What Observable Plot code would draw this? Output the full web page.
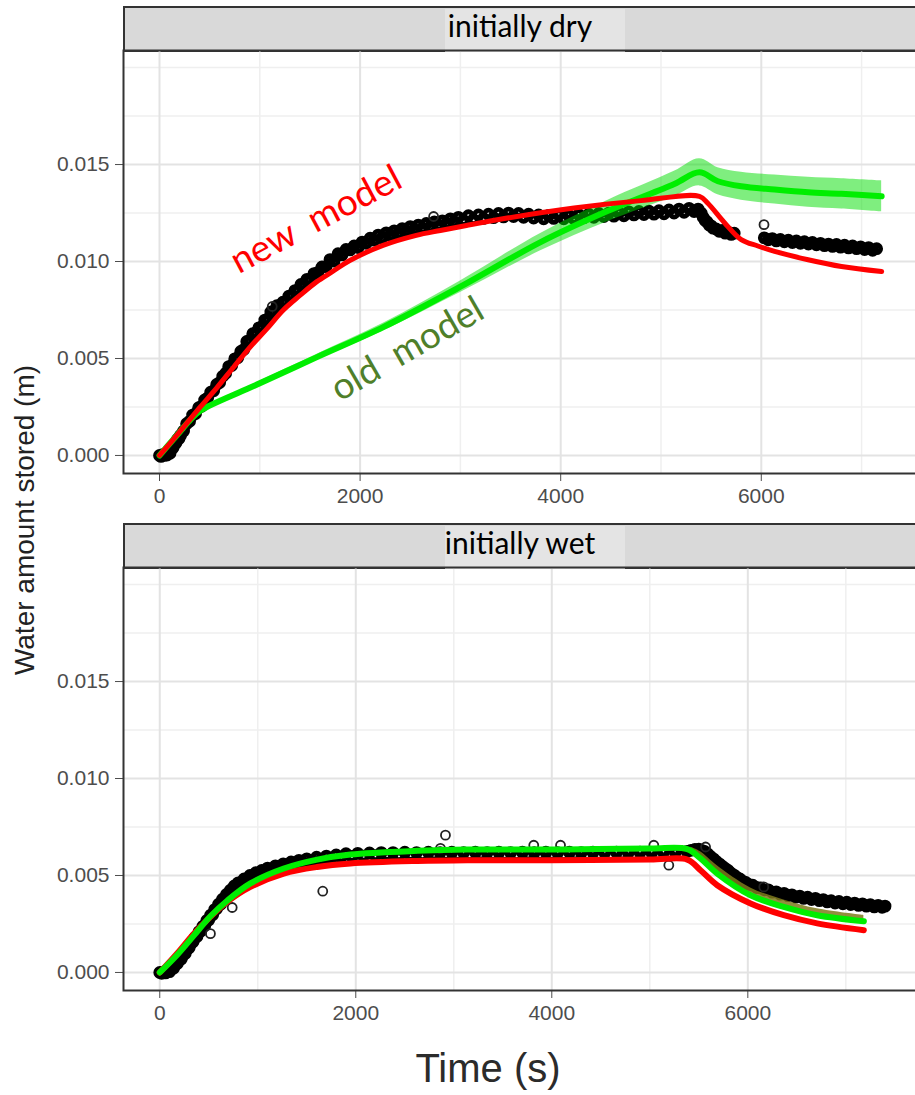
<!DOCTYPE html>
<html>
<head>
<meta charset="utf-8">
<script src="https://cdn.jsdelivr.net/npm/d3@7"></script>
<script src="https://cdn.jsdelivr.net/npm/@observablehq/plot@0.6"></script>
<style>
html,body{margin:0;padding:0;background:#fff;}
#root{position:relative;width:915px;height:1095px;overflow:hidden;font-family:"Liberation Sans",Arial,sans-serif;}
.strip{position:absolute;left:123px;width:820px;height:46px;background:#d9d9d9;border:2px solid #333;box-sizing:border-box;}
.stripbox{position:absolute;left:445px;width:180px;background:#e4e4e4;}
.striptext{position:absolute;left:370px;width:300px;text-align:center;font-family:Lato,"Open Sans",sans-serif;font-size:30px;line-height:36px;color:#000;white-space:nowrap;}
.panel{position:absolute;left:0;width:930px;}
.panel svg{max-width:none !important;}
#ytitle{position:absolute;left:-175px;top:500px;width:400px;height:40px;line-height:40px;text-align:center;font-size:28px;color:#222;transform:rotate(-90deg);white-space:nowrap;}
#xtitle{position:absolute;left:338px;top:1044px;width:300px;line-height:48px;text-align:center;font-size:40px;color:#2b2b2b;white-space:nowrap;}
</style>
</head>
<body>
<div id="root">
  <div class="strip" style="top:6px"></div>
  <div class="stripbox" style="top:9px;height:43px"></div>
  <div class="striptext" style="top:7px">initially dry</div>
  <div class="strip" style="top:523px"></div>
  <div class="stripbox" style="top:526px;height:43px"></div>
  <div class="striptext" style="top:524px">initially wet</div>
  <div id="top" class="panel" style="top:50px"></div>
  <div id="bottom" class="panel" style="top:567px"></div>
  <div id="ytitle">Water amount stored (m)</div>
  <div id="xtitle">Time (s)</div>
</div>
<script>
// ---- axis ticks ----
const xTicks = [0, 2000, 4000, 6000];
const xMinorTicks = [1000, 3000, 5000, 7000];
const yTicks = [0, 0.005, 0.010, 0.015];
const yMinorTicks = [0.0025, 0.0075, 0.0125, 0.0175, 0.02];

// ---- initially dry: observed [time, stored] ----
const dryObserved = [
[0,0.00000],[15,-0.00005],[30,0.00004],[45,0.00000],[60,0.00008],[75,0.00002],[90,0.00018],[105,0.00012],[120,0.00034],[135,0.00040],[150,0.00058],[165,0.00066],[180,0.00084],[195,0.00088],[210,0.00104],[240,0.00126],[270,0.00164],[300,0.00176],[330,0.00208],[360,0.00216],[390,0.00246],[420,0.00254],[450,0.00286],[480,0.00296],[510,0.00326],[540,0.00334],[570,0.00366],[600,0.00376],[630,0.00408],[660,0.00424],[690,0.00458],[720,0.00464],[750,0.00498],[780,0.00504],[810,0.00536],[840,0.00546],[870,0.00588],[900,0.00594],[930,0.00628],[960,0.00632],[990,0.00658],[1020,0.00664],[1050,0.00698],[1080,0.00704],[1110,0.00740],[1140,0.00732],[1170,0.00772],[1200,0.00764],[1230,0.00790],[1260,0.00794],[1290,0.00822],[1320,0.00826],[1350,0.00850],[1380,0.00852],[1410,0.00882],[1440,0.00872],[1470,0.00908],[1500,0.00902],[1540,0.00938],[1580,0.00944],[1620,0.00972],[1660,0.00974],[1700,0.01010],[1740,0.01002],[1780,0.01040],[1820,0.01034],[1860,0.01062],[1900,0.01060],[1940,0.01080],[1980,0.01072],[2020,0.01100],[2060,0.01094],[2100,0.01120],[2140,0.01110],[2180,0.01136],[2220,0.01122],[2260,0.01148],[2300,0.01136],[2340,0.01158],[2380,0.01146],[2420,0.01170],[2460,0.01158],[2500,0.01180],[2540,0.01166],[2580,0.01188],[2620,0.01172],[2660,0.01196],[2700,0.01180],[2740,0.01204],[2780,0.01186],[2820,0.01210],[2860,0.01196],[2900,0.01220],[2940,0.01206],[2980,0.01228],[3030,0.01212],[3080,0.01236],[3130,0.01216],[3180,0.01240],[3230,0.01222],[3280,0.01244],[3330,0.01226],[3380,0.01248],[3430,0.01230],[3480,0.01250],[3530,0.01232],[3580,0.01248],[3630,0.01228],[3680,0.01244],[3730,0.01224],[3780,0.01240],[3830,0.01220],[3880,0.01238],[3930,0.01222],[3980,0.01240],[4030,0.01220],[4080,0.01238],[4130,0.01222],[4180,0.01242],[4230,0.01226],[4280,0.01244],[4330,0.01228],[4380,0.01248],[4430,0.01232],[4480,0.01250],[4530,0.01234],[4580,0.01252],[4630,0.01236],[4680,0.01256],[4730,0.01240],[4780,0.01258],[4830,0.01242],[4880,0.01260],[4930,0.01244],[4980,0.01262],[5030,0.01246],[5080,0.01266],[5130,0.01250],[5180,0.01270],[5230,0.01254],[5280,0.01274],[5330,0.01258],[5370,0.01270],[5400,0.01250],[5420,0.01228],[5440,0.01212],[5460,0.01204],[5480,0.01188],[5500,0.01184],[5520,0.01172],[5550,0.01168],[5580,0.01156],[5610,0.01160],[5640,0.01146],[5670,0.01152],[5700,0.01140],[5730,0.01146],
[6030,0.01122],[6070,0.01112],[6110,0.01118],[6150,0.01106],[6190,0.01114],[6230,0.01102],[6270,0.01110],[6310,0.01098],[6350,0.01106],[6390,0.01094],[6430,0.01102],[6470,0.01090],[6510,0.01098],[6550,0.01086],[6590,0.01094],[6630,0.01082],[6670,0.01090],[6710,0.01078],[6750,0.01088],[6790,0.01074],[6830,0.01084],[6870,0.01070],[6910,0.01080],[6950,0.01066],[6990,0.01076],[7030,0.01062],[7070,0.01072],[7110,0.01058],[7150,0.01066]
];
const dryOutliers = [[6027,0.01190],[2733,0.01232],[1124,0.00768]];
// new model (red)
const dryNewModel = [[0,0],[100,0.0006],[240,0.00146],[407,0.0025],[573,0.0035],[740,0.00456],[905,0.0056],[1070,0.00653],[1235,0.0075],[1400,0.00825],[1565,0.00895],[1730,0.0095],[1897,0.01005],[2228,0.01083],[2560,0.01135],[2800,0.0116],[3060,0.01186],[3467,0.01224],[4133,0.01276],[4800,0.01314],[5383,0.01336],[5467,0.0130],[5633,0.0120],[5800,0.01113],[5966,0.0108],[6133,0.01052],[6467,0.01009],[6800,0.00974],[7200,0.00948]];
// old model (green) with its band [time, low, high]
const dryOldModel = [[0,0],[100,0.0006],[200,0.0012],[300,0.0018],[407,0.0023],[905,0.0035],[1570,0.00507],[2236,0.00663],[3000,0.0087],[3800,0.0110],[4467,0.0126],[5133,0.0140],[5383,0.0146],[5567,0.01414],[5800,0.01388],[6133,0.01371],[6467,0.01357],[6800,0.01349],[7200,0.01336]];
const dryOldBand = [[0,0,0],[100,0.00058,0.00062],[200,0.00116,0.00124],[300,0.00175,0.00185],[407,0.00225,0.00235],[905,0.0034,0.0036],[1570,0.00492,0.00522],[2236,0.00643,0.00683],[3000,0.0084,0.009],[3800,0.01055,0.01145],[4467,0.01205,0.01315],[5133,0.01335,0.01465],[5383,0.0139,0.0153],[5567,0.01344,0.01484],[5800,0.01316,0.0146],[6133,0.01296,0.01446],[6467,0.0128,0.01434],[6800,0.01271,0.01427],[7200,0.01256,0.01416]];

// ---- initially wet ----
const wetObserved = [
[0,0.00000],[20,-0.00004],[40,0.00003],[60,-0.00002],[80,0.00008],[100,0.00004],[120,0.00020],[140,0.00022],[160,0.00040],[180,0.00046],[200,0.00066],[220,0.00070],[240,0.00092],[260,0.00098],[280,0.00120],[300,0.00128],[320,0.00150],[340,0.00158],[360,0.00180],[380,0.00186],[400,0.00210],[420,0.00214],[440,0.00238],[460,0.00242],[480,0.00268],[500,0.00270],[520,0.00296],[540,0.00298],[560,0.00324],[580,0.00328],[600,0.00352],[620,0.00352],[640,0.00378],[660,0.00378],[680,0.00402],[700,0.00400],[720,0.00424],[740,0.00422],[760,0.00446],[780,0.00440],[800,0.00462],[830,0.00462],[860,0.00482],[890,0.00480],[920,0.00500],[950,0.00496],[980,0.00514],[1010,0.00508],[1040,0.00526],[1070,0.00520],[1100,0.00538],[1140,0.00532],[1180,0.00550],[1220,0.00542],[1260,0.00560],[1300,0.00552],[1340,0.00570],[1380,0.00560],[1420,0.00578],[1460,0.00568],[1500,0.00586],[1550,0.00574],[1600,0.00594],[1650,0.00582],[1700,0.00600],[1750,0.00588],[1800,0.00606],[1850,0.00594],[1900,0.00612],[1960,0.00598],[2020,0.00614],[2080,0.00600],[2140,0.00616],[2200,0.00602],
[2260,0.00618],[2320,0.00604],[2380,0.00618],[2440,0.00602],[2500,0.00620],[2560,0.00604],[2620,0.00618],[2680,0.00602],[2740,0.00620],[2800,0.00606],[2860,0.00618],[2920,0.00604],[2980,0.00620],[3040,0.00604],[3100,0.00618],[3160,0.00602],[3220,0.00620],[3280,0.00606],[3340,0.00618],[3400,0.00604],[3460,0.00620],[3520,0.00604],[3580,0.00618],[3640,0.00602],[3700,0.00620],[3760,0.00606],[3820,0.00618],[3880,0.00604],[3940,0.00620],[4000,0.00604],[4060,0.00618],[4120,0.00602],[4180,0.00620],[4240,0.00606],[4300,0.00618],[4360,0.00604],[4420,0.00620],[4480,0.00604],[4540,0.00618],[4600,0.00602],[4660,0.00620],[4720,0.00606],[4780,0.00618],[4840,0.00604],[4900,0.00620],[4960,0.00604],[5020,0.00618],[5080,0.00604],[5140,0.00620],[5200,0.00606],[5260,0.00620],[5320,0.00608],[5380,0.00624],[5420,0.00630],[5460,0.00634],[5500,0.00636],[5530,0.00630],[5560,0.00624],[5590,0.00612],[5620,0.00598],[5650,0.00586],[5680,0.00572],[5710,0.00560],[5740,0.00548],[5770,0.00536],[5800,0.00526],[5830,0.00512],[5860,0.00502],[5890,0.00490],[5920,0.00482],[5950,0.00470],[5980,0.00464],[6010,0.00454],[6050,0.00450],[6090,0.00438],[6130,0.00436],[6170,0.00426],[6210,0.00426],[6250,0.00414],[6290,0.00416],[6330,0.00404],[6370,0.00408],[6410,0.00396],[6450,0.00400],[6490,0.00388],[6530,0.00394],[6570,0.00382],[6610,0.00388],[6650,0.00376],[6690,0.00382],[6730,0.00370],[6770,0.00376],[6810,0.00364],[6850,0.00370],[6890,0.00358],[6930,0.00366],[6970,0.00354],[7010,0.00362],[7050,0.00350],[7090,0.00358],[7130,0.00346],[7170,0.00354],[7210,0.00342],[7250,0.00350],[7290,0.00338],[7330,0.00346],[7370,0.00336],[7400,0.00342]
];
const wetOutliers = [[517,0.0020],[739,0.00335],[1663,0.00419],[2915,0.00708],[2864,0.0064],[5194,0.00553],[5569,0.00647],[6163,0.00441],[3816,0.00656],[4089,0.00656],[5041,0.00656]];
const wetNewModel = [[0,0],[177,0.00098],[347,0.002],[517,0.00287],[688,0.00364],[925,0.00441],[1265,0.0051],[1606,0.00544],[1946,0.00562],[2626,0.00575],[3137,0.00579],[3987,0.00579],[5007,0.00582],[5382,0.00582],[5517,0.00527],[5688,0.0045],[6028,0.00356],[6367,0.00295],[6708,0.00253],[7184,0.00218]];
const wetOldModel = [[0,0],[177,0.0009],[347,0.0019],[517,0.0029],[688,0.0037],[925,0.00459],[1265,0.00536],[1606,0.00582],[1946,0.00608],[2626,0.00627],[3137,0.00634],[3987,0.00634],[5007,0.00639],[5382,0.00636],[5517,0.00588],[5688,0.0051],[6028,0.00398],[6367,0.00338],[6708,0.00295],[7184,0.00264]];
const wetOldBand = [[5420,0.00625,0.00645],[5517,0.00588,0.00622],[5688,0.0051,0.0055],[6028,0.00398,0.00436],[6367,0.00338,0.00374],[6708,0.00295,0.00328],[7184,0.00264,0.00294]];

// ---- annotations (top panel) ----
const annotNew = [{label: "new\u00a0 model", t: 1560, v: 0.01215}];
const annotOld = [{label: "old\u00a0 model", t: 2470, v: 0.00548}];

const yDomain = [-0.00093, 0.02088];

function gridMarks() {
  return [
    Plot.gridX(xMinorTicks, {stroke: "#efefef", strokeOpacity: 1, strokeWidth: 1.5}),
    Plot.gridY(yMinorTicks, {stroke: "#efefef", strokeOpacity: 1, strokeWidth: 1.5}),
    Plot.gridX(xTicks, {stroke: "#e3e3e3", strokeOpacity: 1, strokeWidth: 2}),
    Plot.gridY(yTicks, {stroke: "#e3e3e3", strokeOpacity: 1, strokeWidth: 2})
  ];
}
function axisMarks() {
  return [
    Plot.axisX({ticks: xTicks, tickSize: 8, tickPadding: 7, fontSize: 21, color: "#4d4d4d", tickFormat: d => String(d), label: null}),
    Plot.axisY({ticks: yTicks, tickSize: 8, tickPadding: 6, fontSize: 21, color: "#4d4d4d", tickFormat: d3.format(".3f"), label: null}),
    Plot.frame({stroke: "#333", strokeWidth: 2})
  ];
}
function obsMarks(band, outliers) {
  return [
    Plot.dot(band, {x: d => d[0], y: d => d[1], r: 4, stroke: "#000", strokeWidth: 4.8, fill: "none"}),
    Plot.dot(outliers, {x: d => d[0], y: d => d[1], r: 4.5, stroke: "#222", strokeWidth: 1.8, fill: "none"})
  ];
}
const common = {width: 930, height: 463, marginLeft: 123, marginRight: 0, marginTop: 0, marginBottom: 40,
  style: {background: "transparent", fontFamily: "'Liberation Sans', Arial, sans-serif", overflow: "visible", maxWidth: "none"}};

const topPlot = Plot.plot({
  ...common,
  x: {domain: [-359, 7687]},
  y: {domain: yDomain},
  marks: [
    ...gridMarks(),
    ...obsMarks(dryObserved, dryOutliers),
    Plot.areaY(dryOldBand, {x: d => d[0], y1: d => d[1], y2: d => d[2], fill: "#00dd00", fillOpacity: 0.5, curve: "catmull-rom"}),
    Plot.line(dryOldModel, {x: d => d[0], y: d => d[1], stroke: "#00ee00", strokeWidth: 6, curve: "catmull-rom"}),
    Plot.line(dryNewModel, {x: d => d[0], y: d => d[1], stroke: "#ff0000", strokeWidth: 5, curve: "catmull-rom"}),
    Plot.text(annotNew, {x: "t", y: "v", text: "label", rotate: -28, fill: "#ff0000", fontSize: 37, fontFamily: "Lato", lineAnchor: "middle"}),
    Plot.text(annotOld, {x: "t", y: "v", text: "label", rotate: -30, fill: "#4f7f2a", fontSize: 37, fontFamily: "Lato", lineAnchor: "middle"}),
    ...axisMarks()
  ]
});
document.getElementById("top").appendChild(topPlot);

const bottomPlot = Plot.plot({
  ...common,
  x: {domain: [-370, 7864]},
  y: {domain: yDomain},
  marks: [
    ...gridMarks(),
    ...obsMarks(wetObserved, wetOutliers),
    Plot.line(wetNewModel, {x: d => d[0], y: d => d[1], stroke: "#ff0000", strokeWidth: 6, curve: "catmull-rom"}),
    Plot.areaY(wetOldBand, {x: d => d[0], y1: d => d[1], y2: d => d[2], fill: "#7f7a1c", fillOpacity: 0.85, curve: "catmull-rom"}),
    Plot.line(wetOldModel, {x: d => d[0], y: d => d[1], stroke: "#00ee00", strokeWidth: 6, curve: "catmull-rom"}),
    ...axisMarks()
  ]
});
document.getElementById("bottom").appendChild(bottomPlot);
</script>
</body>
</html>
